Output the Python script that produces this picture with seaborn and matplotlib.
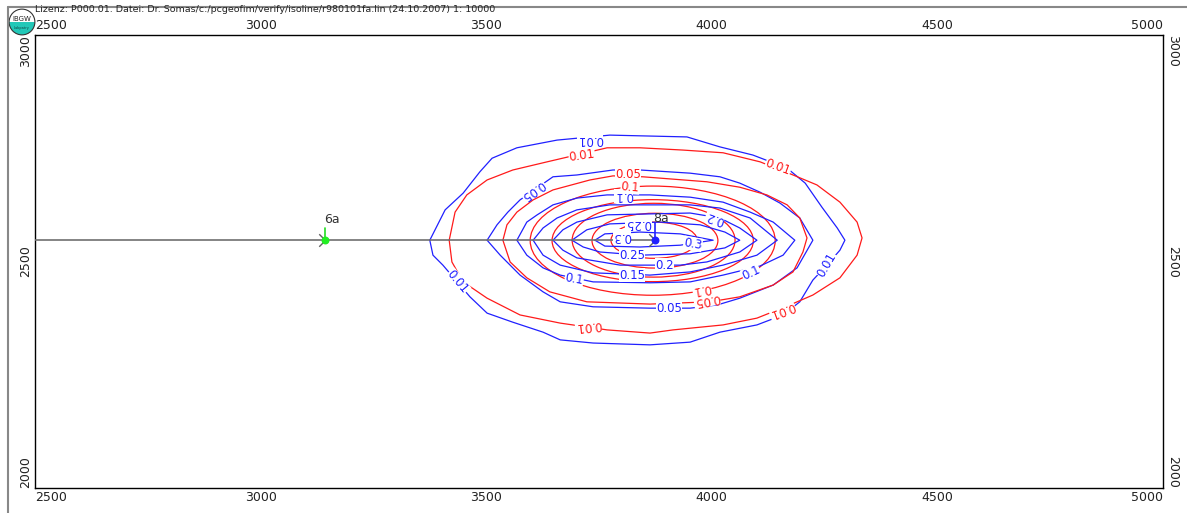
import matplotlib
matplotlib.use("Agg")
import pandas as pd
import matplotlib.pyplot as plt
import seaborn as sns
from matplotlib.patches import Ellipse, Circle, Wedge
from matplotlib.lines import Line2D
from matplotlib.path import Path

# --- daten (Karten-Koordinaten in m) ---
header = "Lizenz: P000.01. Datei: Dr. Somas/c:/pcgeofim/verify/isoline/r980101fa.lin (24.10.2007) 1: 10000"

x_ticks = [2500, 3000, 3500, 4000, 4500, 5000]
y_ticks = [2000, 2500, 3000]

# blaue Isolinien
b001_x = [3375, 3409, 3449, 3486, 3513, 3568, 3657, 3774, 3945, 4018, 4091, 4167, 4207, 4244, 4278, 4295,
          4284, 4255, 4224, 4195, 4158, 4100, 4018, 3952, 3863, 3737, 3664, 3626, 3559, 3502, 3464, 3404, 3382]
b001_y = [2547, 2614, 2651, 2698, 2728, 2751, 2768, 2779, 2775, 2753, 2735, 2706, 2673, 2620, 2574, 2547,
          2525, 2492, 2459, 2411, 2382, 2360, 2344, 2322, 2316, 2320, 2327, 2344, 2366, 2386, 2422, 2492, 2514]
b005_x = [3502, 3524, 3548, 3575, 3648, 3701, 3781, 3841, 3952, 4018, 4062, 4107, 4151, 4195, 4224,
          4189, 4136, 4062, 4012, 3952, 3863, 3737, 3664, 3626, 3575, 3531]
b005_y = [2547, 2581, 2609, 2636, 2687, 2691, 2702, 2702, 2695, 2687, 2673, 2653, 2629, 2596, 2547,
          2486, 2448, 2419, 2404, 2397, 2397, 2400, 2411, 2433, 2470, 2514]
b010_x = [3568, 3590, 3613, 3648, 3701, 3768, 3863, 3952, 4025, 4085, 4136, 4184,
          4158, 4107, 4025, 3952, 3863, 3737, 3664, 3626, 3590]
b010_y = [2547, 2587, 2603, 2625, 2640, 2647, 2647, 2642, 2631, 2609, 2587, 2547,
          2514, 2490, 2470, 2455, 2453, 2455, 2470, 2486, 2514]
b015_x = [3604, 3626, 3657, 3701, 3774, 3952, 4018, 4085, 4145, 4100, 4025, 3952, 3863, 3737, 3664, 3626]
b015_y = [2547, 2574, 2596, 2614, 2625, 2625, 2618, 2596, 2547, 2514, 2492, 2477, 2470, 2475, 2492, 2514]
b020_x = [3648, 3670, 3701, 3768, 3952, 4018, 4062, 4100, 4062, 3989, 3930, 3797, 3701, 3670]
b020_y = [2547, 2570, 2587, 2603, 2607, 2596, 2574, 2547, 2521, 2499, 2492, 2492, 2508, 2525]
b025_x = [3690, 3723, 3774, 3885, 3974, 4029, 4062, 4029, 3952, 3841, 3752, 3715]
b025_y = [2547, 2570, 2583, 2587, 2581, 2565, 2547, 2530, 2517, 2514, 2521, 2532]
b030_x = [3741, 3763, 3841, 3930, 4003, 3930, 3841, 3763]
b030_y = [2547, 2561, 2565, 2561, 2547, 2536, 2532, 2534]

# rote Isolinien (aussen als Polygon, innen als Ellipse)
r001_x = [3418, 3424, 3449, 3502, 3575, 3664, 3768, 3863, 3914, 4025, 4100, 4173, 4224, 4284, 4322, 4333,
          4322, 4284, 4233, 4180, 4107, 4025, 3936, 3841, 3768, 3635, 3559, 3502, 3457, 3431]
r001_y = [2547, 2499, 2455, 2419, 2382, 2364, 2349, 2342, 2349, 2360, 2375, 2404, 2426, 2464, 2514, 2552,
          2587, 2631, 2669, 2691, 2720, 2740, 2746, 2751, 2751, 2720, 2702, 2680, 2647, 2609]
r005_x = [3537, 3546, 3568, 3604, 3648, 3730, 3781, 3847, 3989, 4062, 4122, 4167, 4195, 4211,
          4202, 4180, 4136, 4062, 3996, 3863, 3723, 3641, 3590, 3553]
r005_y = [2547, 2581, 2609, 2636, 2658, 2680, 2689, 2687, 2676, 2664, 2647, 2625, 2596, 2552,
          2521, 2477, 2448, 2422, 2411, 2406, 2411, 2433, 2464, 2499]
red_levels = [0.1, 0.15, 0.2, 0.25, 0.3]
red_cx = [3869, 3869, 3871, 3874, 3872]
red_cy = [2546, 2546, 2547, 2546, 2547]
red_w = [543, 446, 361, 279, 191]
red_h = [241, 181, 163, 121, 80]

# Beschriftungen der Isolinien
lab_text = ["0.01", "0.01", "0.01", "0.05", "0.05", "0.1", "0.1", "0.1", "0.15", "0.2", "0.2", "0.25", "0.25",
            "0.3", "0.3",
            "0.01", "0.01", "0.01", "0.01", "0.05", "0.05", "0.1", "0.1"]
lab_x = [3730, 3437, 4255, 3604, 3905, 3805, 3695, 4087, 3823, 3896, 4007, 3823, 3838, 3801, 3958,
         3712, 4147, 3726, 4156, 3814, 3989, 3819, 3978]
lab_y = [2770, 2455, 2492, 2658, 2397, 2645, 2461, 2475, 2470, 2492, 2596, 2514, 2583, 2556, 2539,
         2733, 2709, 2358, 2393, 2693, 2415, 2664, 2439]
lab_rot = [180, -50, 60, 215, 0, 180, -10, 25, 0, 0, 160, 0, 180, 180, -10,
           8, -20, 185, 200, 0, 190, -5, 190]
lab_col = ["b"] * 15 + ["r"] * 8

# Quellpunkte
src_x = [3143, 3874]
src_y = [2547, 2547]
src_name = ["6a", "8a"]
line_start_x = 2500

BLUE = "#2020ff"
RED = "#ff1a1a"

sns.set_style("white")
plt.rcParams["font.family"] = ["DejaVu Sans"]

W, H = 1187, 513
fig = plt.figure(figsize=(W / 100, H / 100), dpi=100)
ax = fig.add_axes([35 / W, 1 - 488 / H, 1128 / W, 453 / H])


def ring(xs, ys):
    return pd.DataFrame({"x": xs + xs[:1], "y": ys + ys[:1]})


blue_lines = [(b001_x, b001_y), (b005_x, b005_y), (b010_x, b010_y), (b015_x, b015_y),
              (b020_x, b020_y), (b025_x, b025_y), (b030_x, b030_y)]
for xs, ys in blue_lines:
    sns.lineplot(data=ring(xs, ys), x="x", y="y", sort=False, estimator=None,
                 color=BLUE, lw=0.9, ax=ax, legend=False)

for xs, ys in [(r001_x, r001_y), (r005_x, r005_y)]:
    sns.lineplot(data=ring(xs, ys), x="x", y="y", sort=False, estimator=None,
                 color=RED, lw=0.9, ax=ax, legend=False)
for cx, cy, w, h in zip(red_cx, red_cy, red_w, red_h):
    ax.add_patch(Ellipse((cx, cy), w, h, fill=False, ec=RED, lw=0.9))

# Ausbreitungslinie mit Pfeilen
ax.plot([line_start_x, src_x[1]], [src_y[0], src_y[1]], color="#707070", lw=1.2, zorder=3)
arrow = Path([(-1, 1), (0, 0), (-1, -1)], [Path.MOVETO, Path.LINETO, Path.LINETO])
ax.plot(src_x, src_y, ls="none", marker=arrow, ms=9, mfc="none", mec="#606060", mew=1.0, zorder=4)
ax.plot([src_x[0], src_x[0]], [src_y[0], src_y[0] + 27], color="#22dd22", lw=1.2, zorder=4)
ax.plot([src_x[1], src_x[1]], [src_y[1], src_y[1] + 38], color=BLUE, lw=1.2, zorder=4)
ax.scatter([src_x[0]], [src_y[0]], s=22, color="#22ee22", zorder=5)
ax.scatter([src_x[1]], [src_y[1]], s=22, color=BLUE, zorder=5)
ax.text(src_x[0] + 15, src_y[0] + 45, src_name[0], fontsize=9, ha="center", va="center",
        color="#333333", zorder=8)
ax.text(src_x[1] + 14, src_y[1] + 47, src_name[1], fontsize=9, ha="center", va="center",
        color="#333333", zorder=8)

for s, x, y, r, c in zip(lab_text, lab_x, lab_y, lab_rot, lab_col):
    ax.text(x, y, s, rotation=r, rotation_mode="anchor", ha="center", va="center",
            fontsize=8.5, color=BLUE if c == "b" else RED, zorder=6,
            bbox=dict(fc="white", ec="none", pad=0.2))

ax.set_xlim(2500, 5000)
ax.set_ylim(2000, 3000)
ax.set_xlabel("")
ax.set_ylabel("")
ax.set_xticks(x_ticks)
ax.set_xticklabels([str(v) for v in x_ticks])
ax.set_yticks(y_ticks)
ax.set_yticklabels([str(v) for v in y_ticks])
ax.tick_params(axis="x", length=0, top=True, labeltop=True, bottom=True, labelbottom=True,
               pad=2, labelsize=9, labelcolor="#222222")
ax.tick_params(axis="y", length=0, left=True, labelleft=True, right=True, labelright=True,
               pad=2, labelsize=9, labelcolor="#222222")
for spine in ax.spines.values():
    spine.set_color("black")
    spine.set_linewidth(1.0)
    spine.set_visible(True)

xt = ax.xaxis.get_major_ticks()
for i, t in enumerate(xt):
    ha = "left" if i == 0 else ("right" if i == len(xt) - 1 else "center")
    t.label1.set_horizontalalignment(ha)
    t.label2.set_horizontalalignment(ha)
yt = ax.yaxis.get_major_ticks()
for i, t in enumerate(yt):
    va = "bottom" if i == 0 else ("top" if i == len(yt) - 1 else "center")
    t.label1.set_rotation(90)
    t.label1.set_verticalalignment(va)
    t.label2.set_rotation(270)
    t.label2.set_verticalalignment(va)

# Kopfzeile und Rahmen
fig.text(35 / W, 1 - 10 / H, header, fontsize=6.8, ha="left", va="center", color="#222222")
fig.add_artist(Line2D([8 / W, 1], [1 - 7 / H, 1 - 7 / H], color="#888888", lw=1.5))
fig.add_artist(Line2D([8 / W, 8 / W], [0, 1 - 7 / H], color="#888888", lw=1.5))

# Logo
lax = fig.add_axes([8 / W, 1 - 36 / H, 28 / W, 28 / H])
lax.set_xlim(0, 1)
lax.set_ylim(0, 1)
lax.axis("off")
lax.add_patch(Wedge((0.5, 0.5), 0.46, 180, 360, fc="#22c8b8", ec="none"))
lax.add_patch(Circle((0.5, 0.5), 0.46, fill=False, ec="#333333", lw=0.8))
lax.text(0.5, 0.62, "IBGW", fontsize=5, ha="center", va="center", color="#222222")
lax.text(0.5, 0.3, "Labpatry", fontsize=2.5, ha="center", va="center", color="#114444")

fig.savefig("out.png", dpi=100)
